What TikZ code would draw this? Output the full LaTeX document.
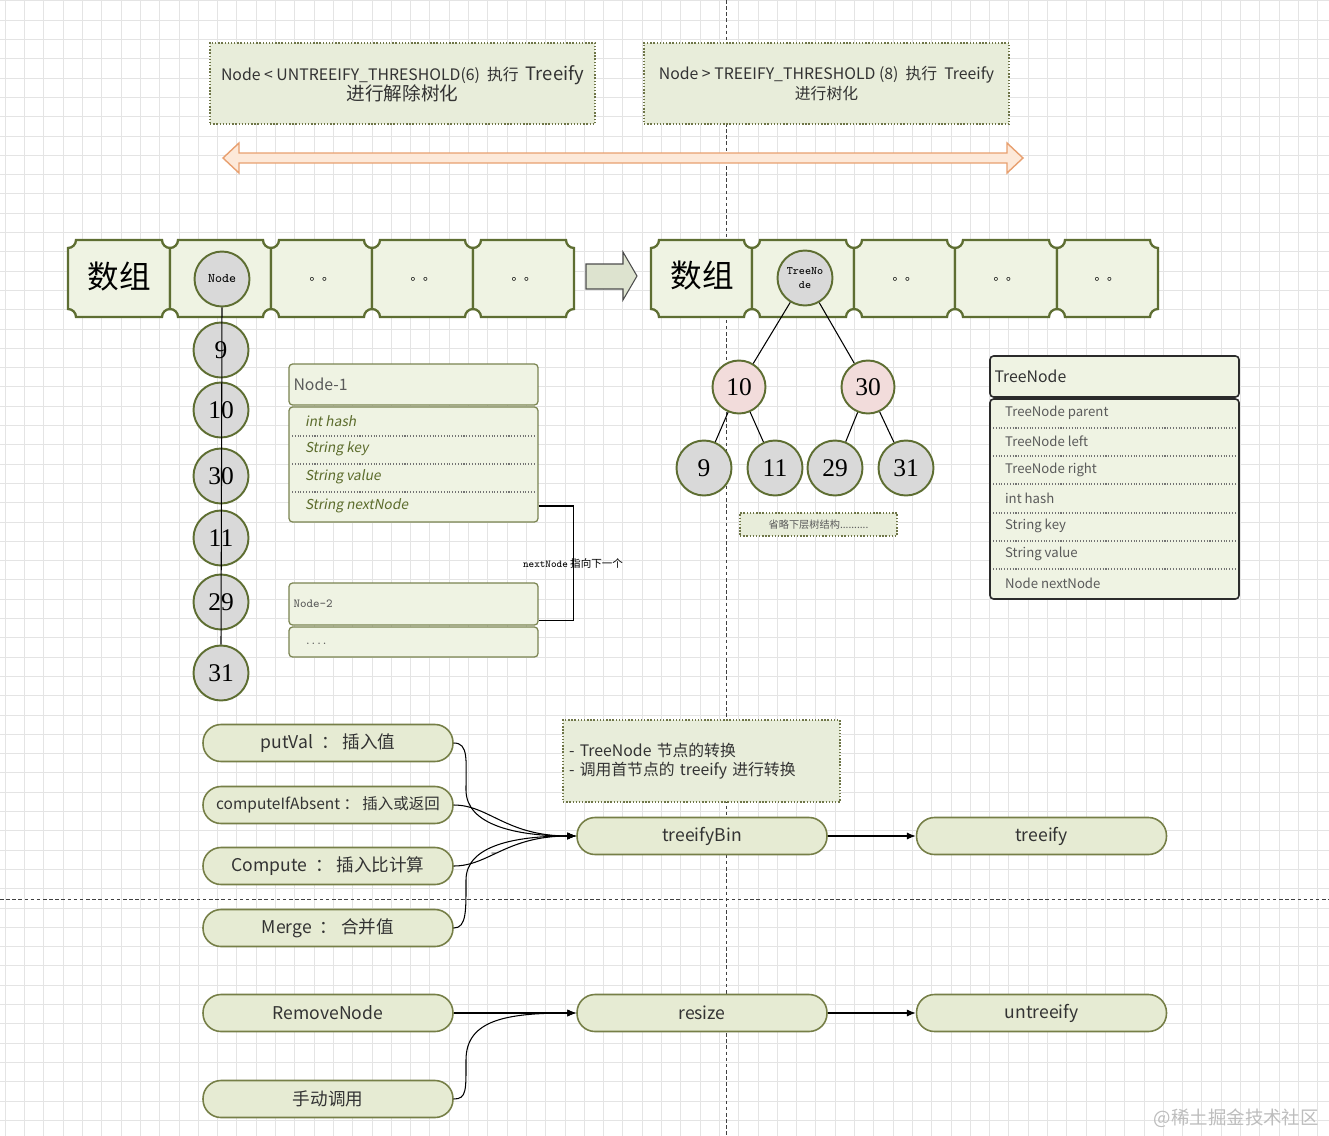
\documentclass[tikz,border=0pt]{standalone}
\usepackage{fontspec}
\setmainfont{Liberation Serif}
\newfontfamily\cjk{Noto Sans CJK SC}
\newfontfamily\cjkit[FakeSlant=0.18]{Noto Sans CJK SC}
\usetikzlibrary{arrows.meta,calc,positioning}
\definecolor{gridgray}{HTML}{E4E4E4}
\definecolor{boxfill}{HTML}{E8EDDA}
\definecolor{notecolor}{HTML}{6E7547}
\definecolor{cellfill}{HTML}{EFF3E3}
\definecolor{cellline}{HTML}{5E6E32}
\definecolor{ballgray}{HTML}{D9D9D9}
\definecolor{ballpink}{HTML}{F2DCDB}
\definecolor{pillfill}{HTML}{E6EBD3}
\definecolor{pilline}{HTML}{767F47}
\definecolor{rangefill}{HTML}{FDE9D9}
\definecolor{rangeline}{HTML}{E8A070}
\definecolor{shiftfill}{HTML}{DDE3CF}
\definecolor{textdark}{HTML}{333333}
\definecolor{textgray}{HTML}{5A5A5A}
\definecolor{fieldolive}{HTML}{5B6B2B}
\definecolor{classline}{HTML}{7A8450}
\definecolor{classdark}{HTML}{2B2B2B}
\definecolor{wmgray}{HTML}{BDBDBD}
\tikzset{
  gridline/.style={draw=gridgray, line width=0.4pt},
  pagebreak/.style={draw=black!75, dash pattern=on 2pt off 1.5pt, line width=0.5pt},
  notebox/.style={
    draw=notecolor,
    densely dotted,
    line width=0.8pt,
    fill=boxfill,
    text=textdark,
    align=center,
    inner sep=2pt,
    font=\cjk\fontsize{9}{11}\selectfont
  },
  rangebar/.style={draw=rangeline, fill=rangefill, line width=0.8pt},
  shiftarrow/.style={draw=black!70, fill=shiftfill, line width=0.6pt},
  cellbox/.style={draw=cellline, fill=cellfill, line width=1.3pt},
  arraylabel/.style={font=\cjk\fontsize{18}{18}\selectfont, text=black},
  dotmark/.style={font=\cjk\fontsize{7}{7}\selectfont, text=black},
  ballnode/.style={
    circle,
    draw=cellline,
    fill=ballgray,
    line width=1.1pt,
    minimum size=1.1cm,
    inner sep=0pt,
    font=\fontsize{14.5}{15}\selectfont
  },
  redball/.style={ballnode, fill=ballpink, minimum size=1.06cm},
  classhead/.style={
    draw=classline,
    fill=cellfill,
    rounded corners=2pt,
    line width=0.7pt,
    minimum width=4.98cm,
    minimum height=0.82cm,
    text width=4.8cm,
    align=left,
    inner xsep=2pt,
    text=textgray,
    font=\cjk\fontsize{9}{11}\selectfont
  },
  classbody/.style={draw=classline, fill=cellfill, rounded corners=2pt, line width=0.7pt, minimum width=4.98cm},
  rowsep/.style={draw=black!55, densely dotted, line width=0.6pt},
  fieldtext/.style={anchor=west, inner sep=1pt, text=fieldolive, font=\cjkit\fontsize{7.8}{9}\selectfont},
  linklabel/.style={inner sep=1pt, font=\cjk\fontsize{6}{7}\selectfont, text=black},
  pill/.style={
    draw=pilline,
    fill=pillfill,
    rounded corners=0.36cm,
    line width=0.9pt,
    minimum width=5cm,
    minimum height=0.74cm,
    text=textdark,
    font=\cjk\fontsize{10}{12}\selectfont
  },
  arrow/.style={-{Latex[length=5pt,width=4pt]}, line width=0.6pt, draw=black},
  link/.style={line width=0.6pt, draw=black}
}
\begin{document}
\begin{tikzpicture}[x=0.02cm, y=-0.02cm]
  \useasboundingbox (0,0) rectangle (1329,1136);
  \fill[white] (0,0) rectangle (1329,1136);
  % background grid and page breaks
  \foreach \i in {0,...,68} \draw[gridline] ({5.2+19.3*\i},0) -- ({5.2+19.3*\i},1136);
  \foreach \j in {0,...,58} \draw[gridline] (0,{0.8+19.3*\j}) -- (1329,{0.8+19.3*\j});
  \draw[pagebreak] (726,0) -- (726,1136);
  \draw[pagebreak] (0,899) -- (1329,899);

  % thresholds
  \node[notebox, minimum width=7.7cm, minimum height=1.62cm] (untree) at (402.5,83.5)
    {Node < UNTREEIFY\_THRESHOLD(6)\ \ 执行\ \ {\fontsize{10.5}{12}\selectfont Treeify}\\[-1pt]{\fontsize{10.6}{12}\selectfont 进行解除树化}};
  \node[notebox, minimum width=7.3cm, minimum height=1.62cm] (tree) at (826.5,83.5)
    {Node > TREEIFY\_THRESHOLD (8)\ \ 执行\ \ Treeify\\进行树化};
  \draw[rangebar] (223,158) -- (239,143) -- (239,153) -- (1007,153) -- (1007,143) -- (1023,158)
    -- (1007,173) -- (1007,163) -- (239,163) -- (239,173) -- cycle;

  % bucket arrays
  \foreach \xa/\xb in {68/170,170/271,271/372,372/473,473/574,651/752,752/854,854/955,955/1057,1057/1158}
    \draw[cellbox] (\xa+8,240) -- (\xb-8,240) .. controls (\xb-8,244.4) and (\xb-4.4,248) .. (\xb,248)
      -- (\xb,309) .. controls (\xb-4.4,309) and (\xb-8,312.6) .. (\xb-8,317)
      -- (\xa+8,317) .. controls (\xa+8,312.6) and (\xa+4.4,309) .. (\xa,309)
      -- (\xa,248) .. controls (\xa+4.4,248) and (\xa+8,244.4) .. (\xa+8,240) -- cycle;
  \node[arraylabel] (arrL) at (119,277) {数组};
  \node[arraylabel] (arrR) at (702,276) {数组};
  \node[ballnode, font=\ttfamily\fontsize{7.5}{8}\selectfont] (headL) at (222,279) {Node};
  \node[ballnode, align=center, font=\ttfamily\fontsize{6.5}{8}\selectfont] (headR) at (805,278) {TreeNo\\de};
  \foreach \cx [count=\k] in {322,423,524} \node[dotmark] (dotL\k) at (\cx,279) {。。};
  \foreach \cx [count=\k] in {905,1006,1107} \node[dotmark] (dotR\k) at (\cx,279) {。。};
  \draw[shiftarrow] (586,264) -- (623,264) -- (623,252) -- (637,276) -- (623,300) -- (623,289) -- (586,289) -- cycle;

  % linked list in bucket
  \foreach \v/\cy [count=\k] in {9/350,10/410,30/476,11/538,29/602,31/673}
    \node[ballnode] (c\k) at (221,\cy) {\v};
  \draw[link] (headL.south) -- (c6.north);

  % red-black tree in bucket
  \node[redball] (t10) at (739,387) {10};
  \node[redball] (t30) at (868,387) {30};
  \node[ballnode] (t9) at (704,468) {9};
  \node[ballnode] (t11) at (775,468) {11};
  \node[ballnode] (t29) at (835,468) {29};
  \node[ballnode] (t31) at (906,468) {31};
  \draw[link] (headR) -- (t10);
  \draw[link] (headR) -- (t30);
  \draw[link] (t10) -- (t9);
  \draw[link] (t10) -- (t11);
  \draw[link] (t30) -- (t29);
  \draw[link] (t30) -- (t31);
  \node[notebox, minimum width=3.14cm, minimum height=0.46cm, text=textgray, font=\cjk\fontsize{5.8}{7}\selectfont] (omit) at (818.5,524.5) {省略下层树结构..........};

  % Node class
  \node[classhead] (n1head) at (413.5,384.5) {Node-1};
  \node[classbody, minimum height=2.3cm] (n1body) at (413.5,464.5) {};
  \foreach \y in {436,464,492} \draw[rowsep] (292,\y) -- (535,\y);
  \foreach \fname/\y [count=\k] in {int hash/421,String key/449,String value/477,String nextNode/506}
    \node[fieldtext] (n1f\k) at (303,\y) {\fname};
  \node[classhead, minimum height=0.84cm, font=\ttfamily\fontsize{7}{8}\selectfont] (n2head) at (413.5,604) {Node-2};
  \node[classbody, minimum height=0.6cm] (n2body) at (413.5,642) {};
  \node[fieldtext, text=textgray, font=\ttfamily\fontsize{6}{7}\selectfont] (n2f1) at (303,644) {....};
  \draw[link] (n1body.east |- n1f4) -- ++(35,0) |- ([yshift=0.1cm]n2head.south east);
  \node[linklabel] (nextlbl) at (573,563) {{\ttfamily nextNode} 指向下一个};

  % TreeNode class
  \node[classhead, draw=classdark, line width=0.9pt, text=textdark] (tnhead) at (1114.5,376.5) {TreeNode};
  \node[classbody, draw=classdark, line width=0.9pt, minimum height=4cm] (tnbody) at (1114.5,499) {};
  \foreach \y in {428,456,484,513,541,569} \draw[rowsep] (993,\y) -- (1236,\y);
  \foreach \fname/\y [count=\k] in {TreeNode parent/413,TreeNode left/441,TreeNode right/470,int hash/498,String key/526,String value/554,Node nextNode/583}
    \node[fieldtext, text=textgray, font=\cjk\fontsize{7.5}{9}\selectfont] (tnf\k) at (1003,\y) {\fname};

  % callers of treeifyBin
  \node[pill] (pv) at (328,743) {putVal\ \ ：\ 插入值};
  \node[pill, font=\cjk\fontsize{8.8}{10}\selectfont] (ca) at (328,805) {computeIfAbsent\ ：\ 插入或返回};
  \node[pill] (cp) at (328,866) {Compute\ \ ：\ 插入比计算};
  \node[pill] (mg) at (328,928) {Merge\ \ ：\ 合并值};
  \node[pill] (tb) at (702,836) {treeifyBin};
  \node[pill, right=1.76cm of tb] (tf) {treeify};
  \node[notebox, minimum width=5.54cm, minimum height=1.64cm, text width=5.3cm, align=left] (tbnote) at (701.5,761)
    {- TreeNode 节点的转换\\- 调用首节点的 treeify 进行转换};
  \draw[arrow] (pv.east) .. controls +(15,0) and +(0,-30) .. (466,790) .. controls +(0,35) and +(-60,0) .. (tb.west);
  \draw[arrow] (ca.east) .. controls +(35,0) and +(-70,0) .. (tb.west);
  \draw[arrow] (cp.east) .. controls +(35,0) and +(-70,0) .. (tb.west);
  \draw[arrow] (mg.east) .. controls +(13,0) and +(0,30) .. (466,880) .. controls +(0,-35) and +(-60,0) .. (tb.west);
  \draw[arrow] (tb.east) -- (tf.west);
  \node[font=\cjk\fontsize{6}{6}\selectfont] (stray) at (494,855) {–};

  % callers of resize
  \node[pill] (rn) at (328,1013) {RemoveNode};
  \node[pill] (rs) at (702,1013) {resize};
  \node[pill, right=1.76cm of rs] (ut) {untreeify};
  \node[pill] (sd) at (328,1099) {手动调用};
  \draw[arrow] (rn.east) -- (rs.west);
  \draw[arrow] (sd.east) .. controls +(13,0) and +(0,30) .. (466,1060) .. controls +(0,-40) and +(-70,0) .. (rs.west);
  \draw[arrow] (rs.east) -- (ut.west);

  \node[anchor=east, text=wmgray, font=\cjk\fontsize{10.5}{12}\selectfont] (wm) at (1325,1118) {@稀土掘金技术社区};
\end{tikzpicture}
\end{document}
